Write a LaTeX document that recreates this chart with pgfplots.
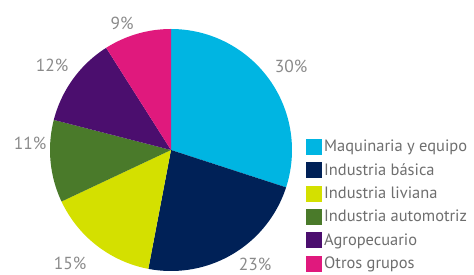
\documentclass[border=0pt]{standalone}
\usepackage{pgfplots}
\pgfplotsset{compat=1.18}
\usepackage{fontspec}
\setmainfont{PT Sans}
\definecolor{cMaq}{HTML}{00B5E2}
\definecolor{cBas}{HTML}{002157}
\definecolor{cLiv}{HTML}{D4E000}
\definecolor{cAut}{HTML}{4A7A2A}
\definecolor{cAgr}{HTML}{4B0E6E}
\definecolor{cOtr}{HTML}{E0197D}
\definecolor{labtext}{HTML}{8A8A8A}
\definecolor{legtext}{HTML}{6E6E6E}
% #1 cumulative share before the slice, #2 share of the slice, #3 colour
\newcommand{\slice}[3]{%
  \addplot[fill=#3, draw=none, forget plot, domain={90-3.6*(#1+#2)}:{90-3.6*(#1)}, samples=80, variable=\t]
    ({171+121*cos(\t)},{125+121*sin(\t)}) -- (axis cs:171,125) -- cycle;
}
\begin{document}
\begin{tikzpicture}
\begin{axis}[width=474bp,height=275bp,scale only axis,hide axis,
  xmin=0,xmax=474,ymin=0,ymax=275,clip=false,
  legend style={at={(axis cs:306,137)},anchor=north west,draw=none,fill=none,
    font=\fontsize{16.5}{18}\selectfont,text=legtext,row sep=6.2bp,inner sep=0pt,
    cells={anchor=west}},
  legend image code/.code={\fill[#1] (0bp,-8bp) rectangle (16bp,8bp);},
]
\slice{0}{30}{cMaq}
\slice{30}{23}{cBas}
\slice{53}{15}{cLiv}
\slice{68}{11}{cAut}
\slice{79}{12}{cAgr}
\slice{91}{9}{cOtr}
\addlegendimage{fill=cMaq,draw=none}
\addlegendentry{Maquinaria y equipo}
\addlegendimage{fill=cBas,draw=none}
\addlegendentry{Industria básica}
\addlegendimage{fill=cLiv,draw=none}
\addlegendentry{Industria liviana}
\addlegendimage{fill=cAut,draw=none}
\addlegendentry{Industria automotriz}
\addlegendimage{fill=cAgr,draw=none}
\addlegendentry{Agropecuario}
\addlegendimage{fill=cOtr,draw=none}
\addlegendentry{Otros grupos}
\begin{scope}[every node/.style={text=labtext,font=\fontsize{17.5}{18}\selectfont}]
\node at (axis cs:291,209) {30\%};
\node at (axis cs:255,11) {23\%};
\node at (axis cs:70,12) {15\%};
\node at (axis cs:30,132) {11\%};
\node at (axis cs:52,210) {12\%};
\node at (axis cs:122,252) {9\%};
\end{scope}
\end{axis}
\pgfresetboundingbox
\path (current axis.south west) rectangle (current axis.north east);
\end{tikzpicture}
\end{document}
